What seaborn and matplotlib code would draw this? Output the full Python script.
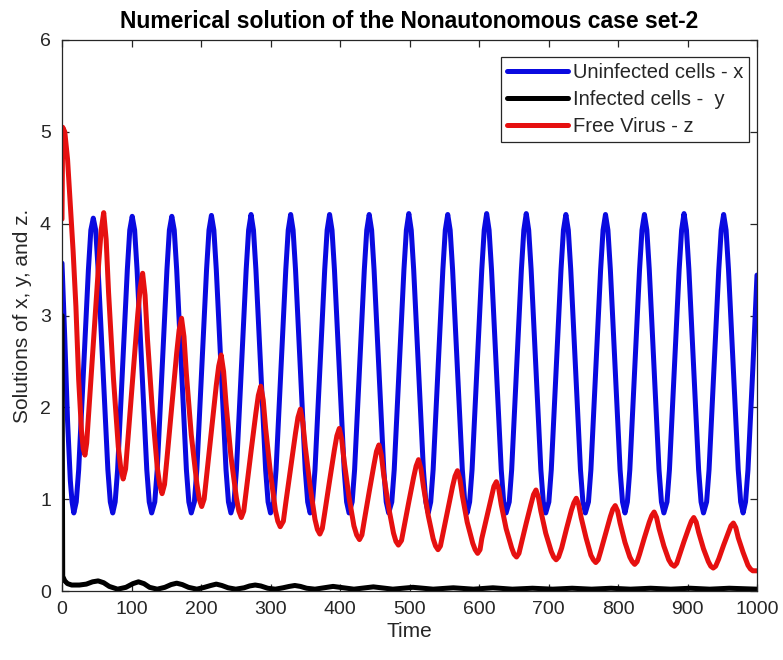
import numpy as np
import pandas as pd
import matplotlib
matplotlib.use("Agg")
import matplotlib.pyplot as plt
import seaborn as sns

# ─────────────────────────────────────────────
# DATA
# ─────────────────────────────────────────────

# Uninfected cells - x (blue)
t_x = [0, 4, 8, 12, 14.5, 17,
       20.5, 24, 31, 38, 41.5, 45, 48.5, 52, 59, 66, 69.5, 73,
       76.5, 80, 87, 94, 97.5, 101, 104.5, 108, 115, 122, 125.5, 129,
       133.5, 137, 144, 151, 154.5, 158, 161.5, 165, 172, 179, 182.5, 186,
       190.5, 194, 201, 208, 211.5, 215, 218.5, 222, 229, 236, 239.5, 243,
       247.5, 251, 258, 265, 268.5, 272, 275.5, 279, 286, 293, 296.5, 300,
       304.5, 308, 315, 322, 325.5, 329, 332.5, 336, 343, 350, 353.5, 357,
       360.5, 364, 371, 378, 381.5, 385, 388.5, 392, 399, 406, 409.5, 413,
       417.5, 421, 428, 435, 438.5, 442, 445.5, 449, 456, 463, 466.5, 470,
       474.5, 478, 485, 492, 495.5, 499, 502.5, 506, 513, 520, 523.5, 527,
       530.5, 534, 541, 548, 551.5, 555, 558.5, 562, 569, 576, 579.5, 583,
       586.5, 590, 597, 604, 607.5, 611, 614.5, 618, 625, 632, 635.5, 639,
       643.5, 647, 654, 661, 664.5, 668, 671.5, 675, 682, 689, 692.5, 696,
       700.5, 704, 711, 718, 721.5, 725, 728.5, 732, 739, 746, 749.5, 753,
       757.5, 761, 768, 775, 778.5, 782, 785.5, 789, 796, 803, 806.5, 810,
       813.5, 817, 824, 831, 834.5, 838, 841.5, 845, 852, 859, 862.5, 866,
       870.5, 874, 881, 888, 891.5, 895, 898.5, 902, 909, 916, 919.5, 923,
       927.5, 931, 938, 945, 948.5, 952, 955.5, 959, 966, 973, 976.5, 980,
       983.5, 987, 994, 1000]
x_vals = [3.57, 2.75, 1.85, 1.2, 0.97, 0.85,
          0.97, 1.32, 2.42, 3.5, 3.93, 4.06, 3.93, 3.5, 2.42, 1.32, 0.97, 0.85,
          0.97, 1.32, 2.42, 3.5, 3.93, 4.08, 3.93, 3.5, 2.42, 1.32, 0.97, 0.85,
          0.97, 1.32, 2.42, 3.5, 3.93, 4.08, 3.93, 3.5, 2.42, 1.32, 0.97, 0.85,
          0.97, 1.32, 2.42, 3.5, 3.93, 4.09, 3.93, 3.5, 2.42, 1.32, 0.97, 0.85,
          0.97, 1.32, 2.42, 3.5, 3.93, 4.1, 3.93, 3.5, 2.42, 1.32, 0.97, 0.85,
          0.97, 1.32, 2.42, 3.5, 3.93, 4.1, 3.93, 3.5, 2.42, 1.32, 0.97, 0.85,
          0.97, 1.32, 2.42, 3.5, 3.93, 4.1, 3.93, 3.5, 2.42, 1.32, 0.97, 0.85,
          0.97, 1.32, 2.42, 3.5, 3.93, 4.1, 3.93, 3.5, 2.42, 1.32, 0.97, 0.85,
          0.97, 1.32, 2.42, 3.5, 3.93, 4.11, 3.93, 3.5, 2.42, 1.32, 0.97, 0.85,
          0.97, 1.32, 2.42, 3.5, 3.93, 4.1, 3.93, 3.5, 2.42, 1.32, 0.97, 0.85,
          0.97, 1.32, 2.42, 3.5, 3.93, 4.11, 3.93, 3.5, 2.42, 1.32, 0.97, 0.85,
          0.97, 1.32, 2.42, 3.5, 3.93, 4.11, 3.93, 3.5, 2.42, 1.32, 0.97, 0.85,
          0.97, 1.32, 2.42, 3.5, 3.93, 4.1, 3.93, 3.5, 2.42, 1.32, 0.97, 0.85,
          0.97, 1.32, 2.42, 3.5, 3.93, 4.1, 3.93, 3.5, 2.42, 1.32, 0.97, 0.85,
          0.97, 1.32, 2.42, 3.5, 3.93, 4.1, 3.93, 3.5, 2.42, 1.32, 0.97, 0.85,
          0.97, 1.32, 2.42, 3.5, 3.93, 4.11, 3.93, 3.5, 2.42, 1.32, 0.97, 0.85,
          0.97, 1.32, 2.42, 3.5, 3.93, 4.1, 3.93, 3.5, 2.42, 1.32, 0.97, 0.85,
          0.97, 1.32, 2.42, 3.44]

# Infected cells - y (black)
t_y = [0, 1, 4, 8, 14, 25, 35, 44, 52, 60, 68,
       80, 92, 102, 110, 118, 126,
       137, 148, 157, 165, 173, 182,
       194, 205, 214, 222, 230, 239,
       250, 262, 270, 278, 286, 296,
       307, 318, 327, 335, 343, 352,
       364, 390, 420, 448, 476, 505, 534, 563, 592, 620,
       648, 677, 706, 734, 762, 790, 818, 847, 876, 904,
       932, 960, 1000]
y_vals = [3.0, 0.16, 0.11, 0.08, 0.065, 0.065, 0.075, 0.1, 0.11, 0.09, 0.05,
          0.02, 0.04, 0.08, 0.1, 0.08, 0.04,
          0.02, 0.04, 0.07, 0.085, 0.07, 0.04,
          0.02, 0.04, 0.06, 0.075, 0.06, 0.035,
          0.02, 0.035, 0.055, 0.065, 0.055, 0.03,
          0.02, 0.035, 0.05, 0.06, 0.05, 0.03,
          0.02, 0.05, 0.02, 0.045, 0.02, 0.04, 0.02, 0.035, 0.02, 0.035,
          0.02, 0.03, 0.02, 0.03, 0.02, 0.03, 0.02, 0.03, 0.02, 0.03,
          0.02, 0.03, 0.02]

# Free Virus - z (red)
t_z = [0, 1, 4, 8, 12, 16, 20, 24, 28, 30.5, 33,
       35.5, 39, 46, 53, 56.5, 60, 63.5, 67, 74, 81, 84.5, 88,
       91.5, 95, 102, 109, 112.5, 116, 119.5, 123, 130, 137, 140.5, 144,
       147.5, 151, 158, 165, 168.5, 172, 175.5, 179, 186, 194, 197.5, 201,
       204.5, 208, 215, 222, 225.5, 229, 232.5, 236, 243, 251, 254.5, 258,
       261.5, 265, 272, 279, 282.5, 286, 289.5, 293, 300, 307, 310.5, 314,
       318.5, 322, 329, 336, 339.5, 343, 346.5, 350, 357, 364, 367.5, 371,
       374.5, 378, 385, 392, 395.5, 399, 402.5, 406, 413, 420, 424, 428,
       431.5, 435, 442, 449, 452.5, 456, 459.5, 463, 470, 477, 480.5, 484,
       488.5, 492, 499, 506, 509.5, 513, 516.5, 520, 527, 534, 537.5, 541,
       544.5, 548, 555, 562, 565.5, 569, 572.5, 576, 583, 591, 594.5, 598,
       601.5, 604, 611, 618, 621.5, 625, 628.5, 632, 639, 647, 650.5, 654,
       657.5, 661, 668, 675, 678.5, 682, 685.5, 689, 696, 704, 707.5, 711,
       714.5, 719, 726, 733, 736.5, 740, 743.5, 747, 754, 761, 764.5, 768,
       771.5, 775, 782, 789, 792.5, 796, 799.5, 803, 810, 817, 820.5, 824,
       827.5, 831, 838, 845, 848.5, 852, 855.5, 859, 866, 873, 877, 881,
       884.5, 888, 895, 902, 905.5, 909, 912.5, 916, 923, 930, 933.5, 937,
       940.5, 945, 952, 959, 962.5, 966, 969.5, 973, 980, 987, 990.5, 994, 1000]
z_vals = [4.05, 5.05, 5.0, 4.7, 4.2, 3.7, 3.1, 2.3, 1.75, 1.55, 1.48,
          1.61, 2.01, 2.8, 3.59, 3.94, 4.12, 3.83, 3.25, 2.32, 1.57, 1.34, 1.22,
          1.33, 1.67, 2.34, 3.01, 3.3, 3.46, 3.22, 2.74, 1.97, 1.35, 1.16, 1.06,
          1.16, 1.44, 2.02, 2.59, 2.84, 2.97, 2.77, 2.36, 1.7, 1.17, 1.0, 0.92,
          1.0, 1.25, 1.75, 2.24, 2.45, 2.57, 2.39, 2.04, 1.47, 1.01, 0.87, 0.8,
          0.87, 1.09, 1.52, 1.94, 2.13, 2.23, 2.08, 1.77, 1.28, 0.88, 0.76, 0.7,
          0.76, 0.96, 1.34, 1.72, 1.89, 1.98, 1.84, 1.57, 1.14, 0.78, 0.67, 0.62,
          0.68, 0.85, 1.2, 1.54, 1.69, 1.77, 1.65, 1.41, 1.02, 0.71, 0.61, 0.56,
          0.61, 0.77, 1.08, 1.38, 1.52, 1.59, 1.48, 1.26, 0.91, 0.63, 0.54, 0.5,
          0.55, 0.69, 0.97, 1.24, 1.36, 1.43, 1.33, 1.14, 0.82, 0.57, 0.49, 0.45,
          0.49, 0.62, 0.88, 1.14, 1.25, 1.31, 1.22, 1.04, 0.75, 0.52, 0.45, 0.41,
          0.45, 0.57, 0.8, 1.03, 1.14, 1.19, 1.11, 0.94, 0.68, 0.47, 0.4, 0.37,
          0.41, 0.52, 0.74, 0.95, 1.05, 1.1, 1.02, 0.87, 0.63, 0.43, 0.37, 0.34,
          0.37, 0.47, 0.68, 0.88, 0.96, 1.01, 0.94, 0.8, 0.58, 0.39, 0.34, 0.31,
          0.34, 0.43, 0.62, 0.81, 0.89, 0.93, 0.87, 0.74, 0.53, 0.37, 0.32, 0.29,
          0.32, 0.4, 0.58, 0.75, 0.82, 0.86, 0.8, 0.68, 0.49, 0.34, 0.29, 0.27,
          0.3, 0.38, 0.54, 0.69, 0.76, 0.8, 0.75, 0.64, 0.46, 0.32, 0.27, 0.25,
          0.27, 0.35, 0.5, 0.64, 0.71, 0.74, 0.69, 0.58, 0.42, 0.28, 0.24, 0.22, 0.22]

labels = ["Uninfected cells - x", "Infected cells -  y", "Free Virus - z"]
colors = ["#0a0ae0", "#000000", "#e61010"]
x_ticks = list(range(0, 1001, 100))
y_ticks = [0, 1, 2, 3, 4, 5, 6]

# ─────────────────────────────────────────────
# PLOT
# ─────────────────────────────────────────────

sns.set_theme(style="white")
plt.rcParams["font.family"] = ["Liberation Sans", "DejaVu Sans"]

fig = plt.figure(figsize=(7.83, 6.6), dpi=100)
ax = fig.add_axes([62 / 783, 1 - 591 / 660, 695 / 783, 551 / 660])

series = [(t_x, x_vals), (t_y, y_vals), (t_z, z_vals)]
for (tt, vv), lab, col in zip(series, labels, colors):
    df = pd.DataFrame({"Time": tt, "val": vv})
    sns.lineplot(data=df, x="Time", y="val", ax=ax, color=col, linewidth=3.6,
                 label=lab, estimator=None, sort=False)

ax.set_xlim(0, 1000)
ax.set_ylim(0, 6)
ax.set_xticks(x_ticks)
ax.set_yticks(y_ticks)

edge = "#262626"
for sp in ax.spines.values():
    sp.set_visible(True)
    sp.set_color(edge)
    sp.set_linewidth(0.9)
ax.tick_params(direction="in", length=5, width=0.9, color=edge, labelcolor=edge,
               labelsize=14, top=True, right=True, bottom=True, left=True)
ax.tick_params(axis="x", pad=7)
ax.tick_params(axis="y", pad=8)

ax.set_xlabel("Time", fontsize=15, color=edge, labelpad=3)
ax.set_ylabel("Solutions of x, y, and z.", fontsize=15, color=edge, labelpad=6)
ax.set_title("Numerical solution of the Nonautonomous case set-2",
             fontsize=16.5, fontweight="bold", color="black", pad=9)

leg = ax.legend(loc="upper right", bbox_to_anchor=(0.9885, 0.969), borderaxespad=0,
                fontsize=14.5, handlelength=3.0, handletextpad=0.25,
                labelspacing=0.4, borderpad=0.3, fancybox=False, framealpha=1)
leg.get_frame().set_edgecolor(edge)
leg.get_frame().set_linewidth(0.9)
for txt in leg.get_texts():
    txt.set_color(edge)

fig.savefig("out.png", dpi=100, facecolor="white")
